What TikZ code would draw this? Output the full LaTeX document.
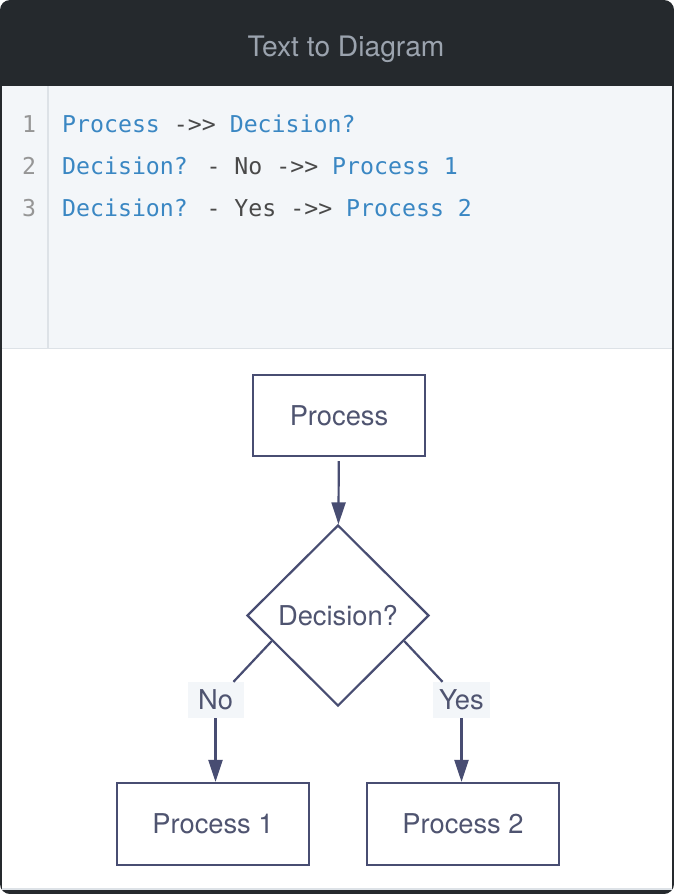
\documentclass[tikz,border=0pt]{standalone}
\usepackage{fontspec}
\setmainfont{TeX Gyre Heros}
\newfontfamily\codefont{DejaVu Sans Mono}
\usetikzlibrary{shapes.geometric,arrows.meta,calc,positioning}
\definecolor{headbg}{RGB}{37,41,45}
\definecolor{headtext}{RGB}{155,163,174}
\definecolor{editbg}{RGB}{243,246,249}
\definecolor{gutter}{RGB}{221,226,231}
\definecolor{lineno}{RGB}{150,150,150}
\definecolor{codeblue}{RGB}{58,135,195}
\definecolor{codedark}{RGB}{74,74,74}
\definecolor{edgecol}{RGB}{72,77,114}
\definecolor{diagtext}{RGB}{79,84,112}
\begin{document}
\begin{tikzpicture}
[x=1pt,y=-1pt,
       font=\fontsize{27.3}{30}\selectfont, text=diagtext,
       box/.style={draw=edgecol,line width=2.2pt,minimum width=192pt,minimum height=82pt},
       choice/.style={diamond,draw=edgecol,line width=2.2pt,minimum width=182pt,minimum height=181pt,inner sep=0pt},
       tag/.style={fill=editbg,minimum width=56pt,minimum height=36pt,inner sep=0pt},
       edge/.style={draw=edgecol,line width=2.2pt},
       flow/.style={edge,-{Triangle[width=14pt,length=22pt]}},
       code/.style={font=\codefont\fontsize{23.2}{26}\selectfont,anchor=base west,inner sep=0pt}]
  % frame
  \fill[white] (0,0) rectangle (674,894);
  \fill[headbg,rounded corners=10pt] (0,0) rectangle (674,894);
  \fill[editbg] (2,86) rectangle (672,348);
  \fill[white] (2,349) rectangle (672,889);
  \draw[gutter,line width=1.5pt] (2,348.5) -- (672,348.5);
  \draw[gutter,line width=1.5pt] (48,86) -- (48,348);
  \draw[gutter,line width=1.5pt] (2,889) -- (672,889);
  \node[font=\fontsize{28.2}{30}\selectfont,text=headtext,anchor=base] (title) at (346,56) {Text to Diagram};
  % editor
  \foreach \n/\y in {1/132,2/174,3/216}
    \node[code,anchor=base,text=lineno] (num\n) at (29,\y) {\n};
  \node[code,text=codeblue] (line1) at (62,132) {Process \textcolor{codedark}{->>} Decision?};
  \node[code,text=codeblue] (line2) at (62,174) {Decision? \textcolor{codedark}{- No ->>} Process 1};
  \node[code,text=codeblue] (line3) at (62,216) {Decision? \textcolor{codedark}{- Yes ->>} Process 2};
  % diagram
  \node[box,minimum width=172pt,minimum height=81pt] (proc) at (339,415.5) {Process};
  \node[choice] (dec) at (338,615.5) {Decision?};
  \node[box] (proc1) at (213,824) {Process 1};
  \node[box] (proc2) at (463,824) {Process 2};
  \node[tag] (no) at (215.5,700) {No};
  \node[tag,minimum width=57pt] (yes) at (461.5,700) {Yes};
  \draw[flow,shorten <=4pt] (proc) -- (dec);
  \draw[edge] ($(dec.west)!0.28!(dec.south)$) -- ($(no.north)+(18,0)$);
  \draw[flow] (no.south) -- (no.south |- proc1.north);
  \draw[edge] ($(dec.east)!0.28!(dec.south)$) -- ($(yes.north)+(-19,0)$);
  \draw[flow] (yes.south) -- (yes.south |- proc2.north);
\end{tikzpicture}
\end{document}
